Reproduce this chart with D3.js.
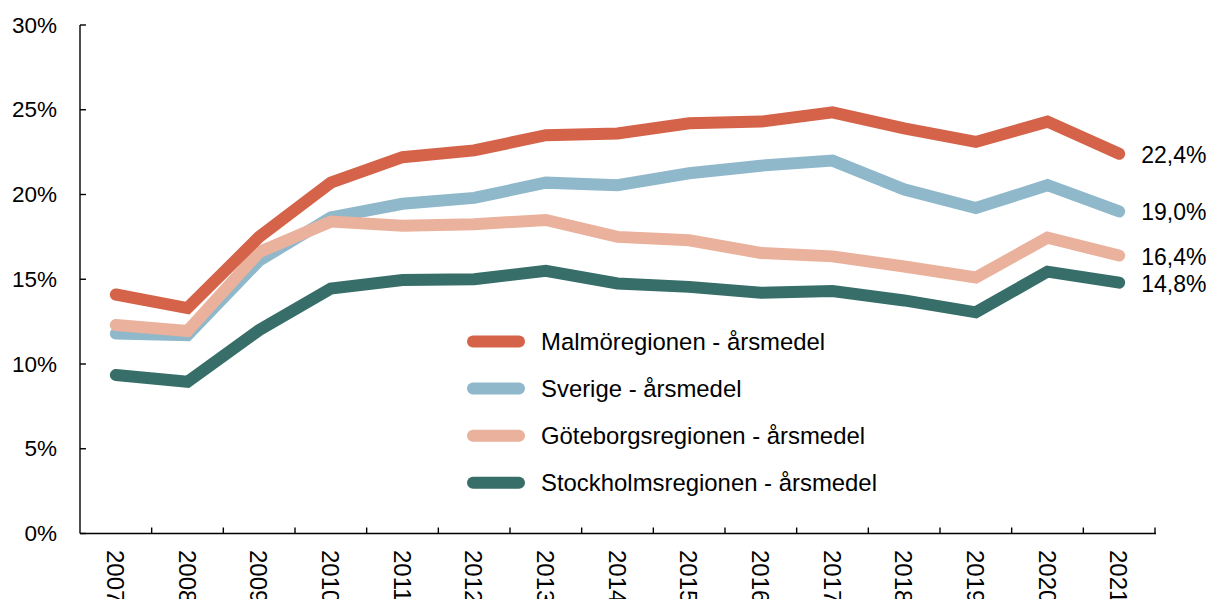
<!DOCTYPE html>
<html>
<head>
<meta charset="utf-8">
<script src="https://cdn.jsdelivr.net/npm/d3@7"></script>
<style>
  html, body { margin: 0; padding: 0; background: #fff; }
  svg { display: block; font-family: "Liberation Sans", Arial, sans-serif; }
</style>
</head>
<body>
<svg id="chart" width="1210" height="599"></svg>
<script>
// Years on the x axis
const years = ["2007","2008","2009","2010","2011","2012","2013","2014","2015","2016","2017","2018","2019","2020","2021"];

// Annual averages, percent
const malmo     = [14.1, 13.3, 17.5, 20.7, 22.2, 22.6, 23.5, 23.6, 24.2, 24.3, 24.85, 23.9, 23.1, 24.3, 22.4];
const sverige   = [11.8, 11.7, 16.1, 18.65, 19.45, 19.8, 20.7, 20.55, 21.25, 21.7, 22.0, 20.3, 19.2, 20.55, 19.0];
const goteborg  = [12.3, 11.95, 16.6, 18.4, 18.15, 18.25, 18.5, 17.5, 17.3, 16.55, 16.35, 15.75, 15.1, 17.45, 16.4];
const stockholm = [9.35, 8.95, 12.0, 14.45, 14.95, 15.0, 15.5, 14.75, 14.55, 14.2, 14.3, 13.75, 13.05, 15.45, 14.8];

const seriesNames = [
  "Malmöregionen - årsmedel",
  "Sverige - årsmedel",
  "Göteborgsregionen - årsmedel",
  "Stockholmsregionen - årsmedel"
];
const seriesColors = ["#D4634A", "#8FB8CB", "#EAB19C", "#376E69"];
const yTicks = [0, 5, 10, 15, 20, 25, 30];

const series = [
  { name: seriesNames[0], color: seriesColors[0], values: malmo },
  { name: seriesNames[1], color: seriesColors[1], values: sverige },
  { name: seriesNames[2], color: seriesColors[2], values: goteborg },
  { name: seriesNames[3], color: seriesColors[3], values: stockholm }
];

const svg = d3.select("#chart");

const x = d3.scaleBand().domain(years).range([80, 1155]);
const y = d3.scaleLinear().domain([0, 30]).range([533.5, 25]);
const cx = d => x(d) + x.bandwidth() / 2;
const fmt = v => d3.format(".1f")(v).replace(".", ",") + "%";

// Y axis: line, inward ticks, percent labels
const yAxis = svg.append("g");
yAxis.append("line")
  .attr("x1", 80).attr("x2", 80)
  .attr("y1", y(30)).attr("y2", y(0))
  .attr("stroke", "#000").attr("stroke-width", 1.4);
yAxis.selectAll("line.tick").data(yTicks).join("line")
  .attr("class", "tick")
  .attr("x1", 80).attr("x2", 86)
  .attr("y1", d => y(d)).attr("y2", d => y(d))
  .attr("stroke", "#000").attr("stroke-width", 1.4);
yAxis.selectAll("text").data(yTicks).join("text")
  .attr("x", 57).attr("y", d => y(d))
  .attr("text-anchor", "end")
  .attr("dominant-baseline", "central")
  .attr("font-size", 22.5)
  .attr("fill", "#000")
  .text(d => d + "%");

// X axis: line, ticks at category boundaries, rotated year labels
const xAxis = svg.append("g");
xAxis.append("line")
  .attr("x1", 80).attr("x2", 1156)
  .attr("y1", y(0)).attr("y2", y(0))
  .attr("stroke", "#000").attr("stroke-width", 1.4);
xAxis.selectAll("line.tick").data(years).join("line")
  .attr("class", "tick")
  .attr("x1", d => x(d) + x.step()).attr("x2", d => x(d) + x.step())
  .attr("y1", y(0)).attr("y2", y(0) - 6)
  .attr("stroke", "#000").attr("stroke-width", 1.4);
xAxis.selectAll("text").data(years).join("text")
  .attr("transform", d => `translate(${cx(d) - 0.5},550) rotate(90)`)
  .attr("text-anchor", "start")
  .attr("dominant-baseline", "central")
  .attr("font-size", 24)
  .attr("fill", "#000")
  .text(d => d);

// Lines, drawn back to front
const line = d3.line()
  .x((v, i) => cx(years[i]))
  .y(v => y(v));

const drawOrder = [3, 1, 2, 0];
svg.append("g").selectAll("path").data(drawOrder.map(i => series[i])).join("path")
  .attr("d", s => line(s.values))
  .attr("fill", "none")
  .attr("stroke", s => s.color)
  .attr("stroke-width", 12)
  .attr("stroke-linecap", "round")
  .attr("stroke-linejoin", "miter");

// Value labels at the last year
const lastIdx = years.length - 1;
svg.append("g").selectAll("text").data(series).join("text")
  .attr("x", cx(years[lastIdx]) + 22)
  .attr("y", s => y(s.values[lastIdx]) + 1)
  .attr("dominant-baseline", "central")
  .attr("font-size", 23)
  .attr("fill", "#000")
  .text(s => fmt(s.values[lastIdx]));

// Legend
const legend = svg.append("g");
const rowY = i => 341.5 + i * 47.1;
legend.selectAll("line").data(series).join("line")
  .attr("x1", 473).attr("x2", 519)
  .attr("y1", (s, i) => rowY(i)).attr("y2", (s, i) => rowY(i))
  .attr("stroke", s => s.color)
  .attr("stroke-width", 12)
  .attr("stroke-linecap", "round");
legend.selectAll("text").data(series).join("text")
  .attr("x", 541)
  .attr("y", (s, i) => rowY(i))
  .attr("dominant-baseline", "central")
  .attr("font-size", 23.9)
  .attr("fill", "#000")
  .text(s => s.name);
</script>
</body>
</html>
